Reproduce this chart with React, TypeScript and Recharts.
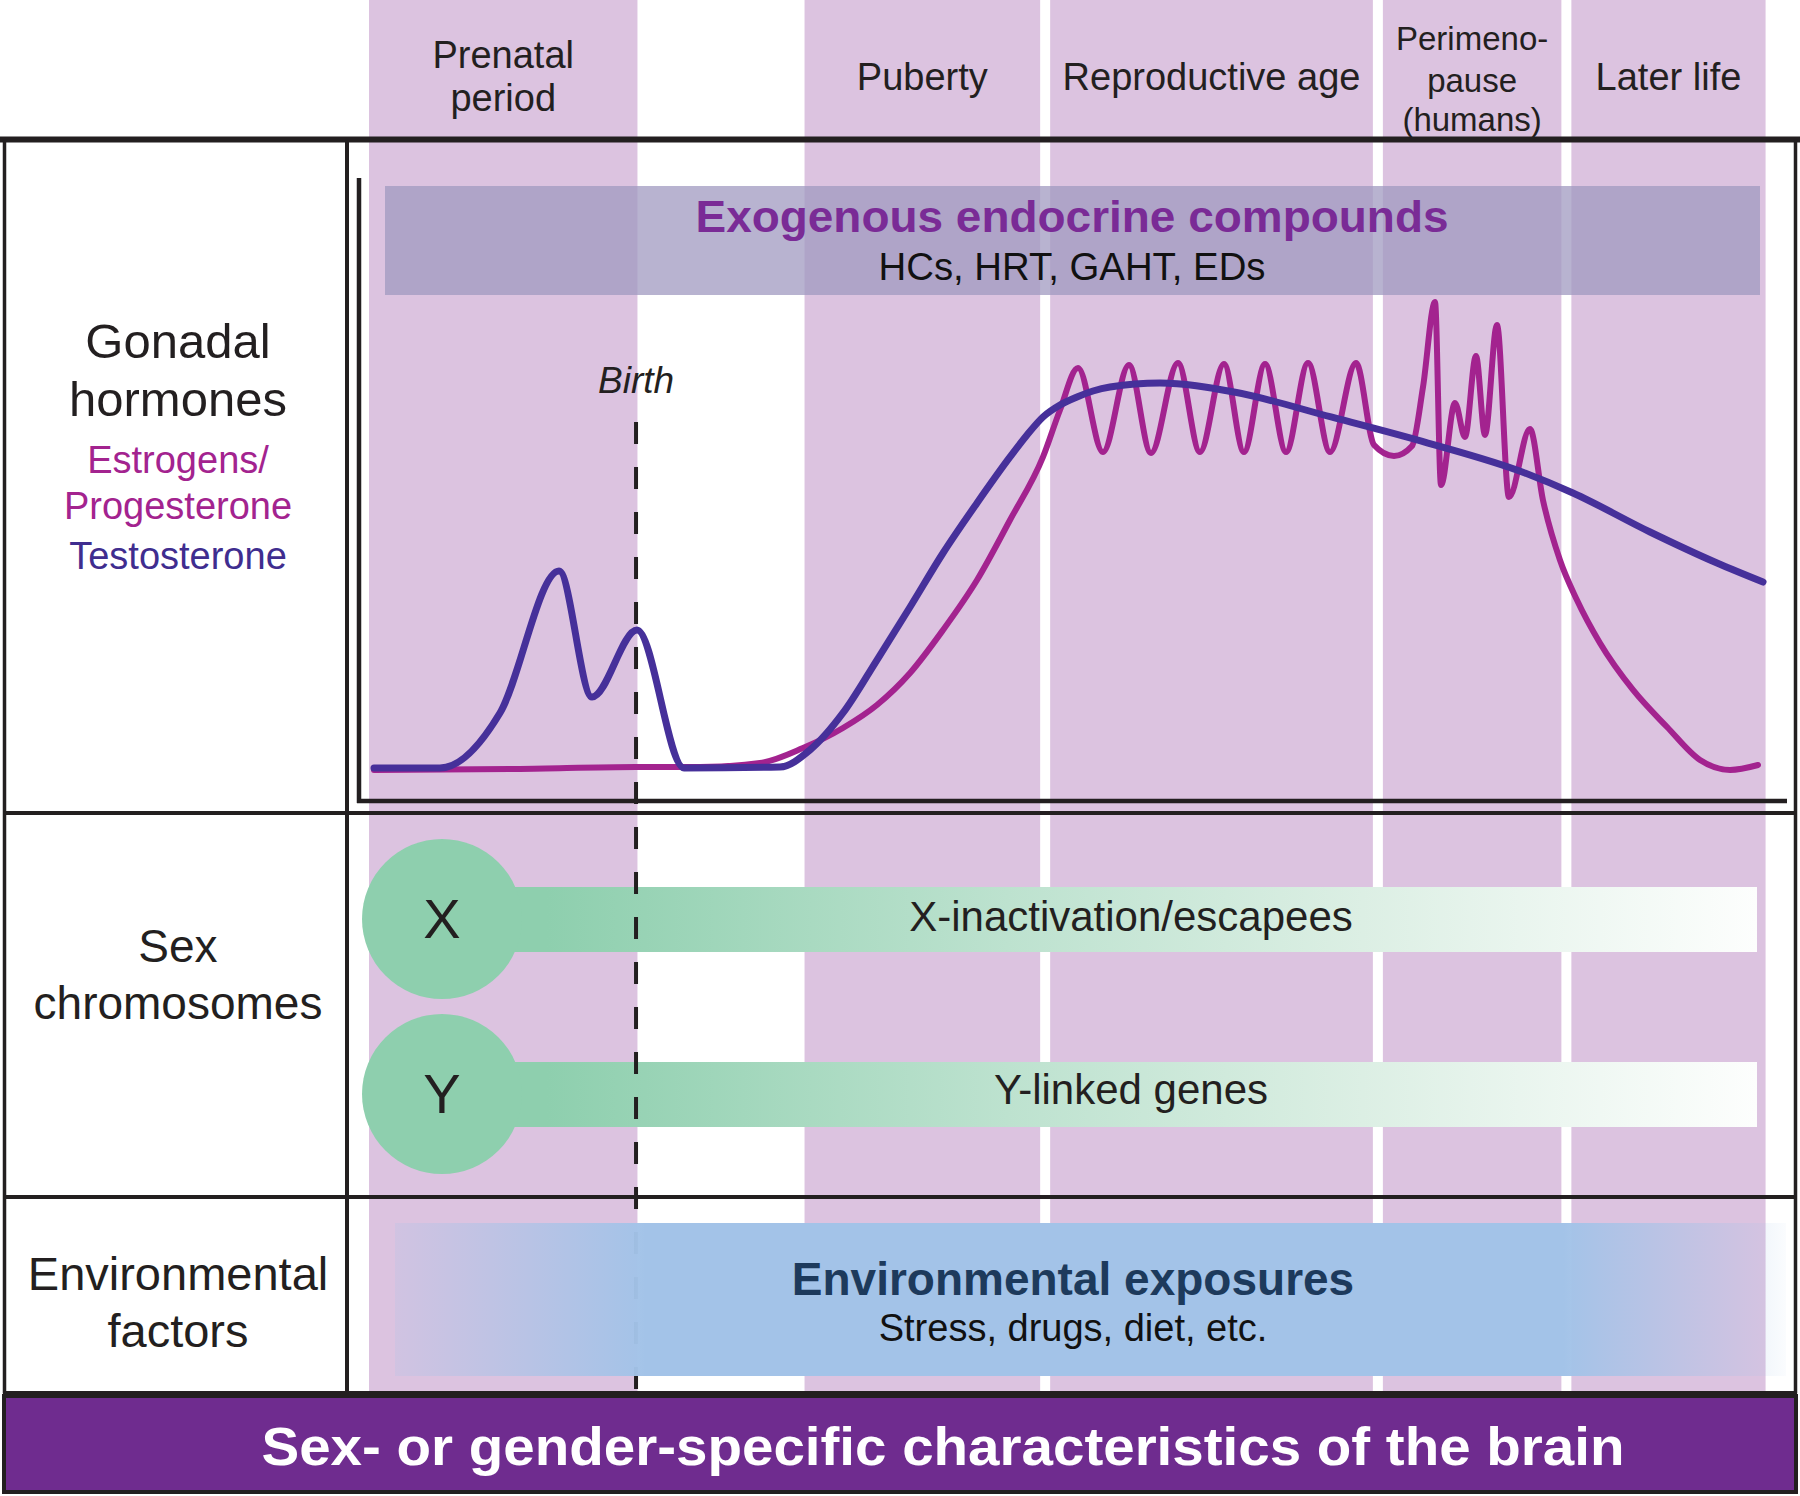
import React from 'react';
import { ComposedChart, Line, XAxis, YAxis, ReferenceArea, ReferenceLine } from 'recharts';

// ---------------- data ----------------
// life-course axis: 0..100 (relative life-course units), hormone level: 0..100 (relative)
const stageLabels: string[][] = [
  ['Prenatal', 'period'],
  ['Puberty'],
  ['Reproductive age'],
  ['Perimeno-', 'pause', '(humans)'],
  ['Later life'],
];
const stageStart = [0.7, 31.2, 48.4, 71.7, 84.9];
const stageEnd = [19.5, 47.7, 71.0, 84.2, 98.5];
const birthAt = 19.4;

const testosteroneX = [1.05, 5.67, 9.87, 14.01, 16.32, 19.47, 22.76, 29.48, 31.58, 33.89, 36.27, 38.59, 40.9, 43.28, 45.59, 46.78, 47.9, 49.09, 50.28, 51.4, 52.59, 56.09, 61.27, 68.07, 74.86, 81.65, 85.01, 90.41, 95.1, 98.32];
const testosteroneLevel = [5.3, 5.3, 14.13, 36.92, 16.69, 27.45, 5.3, 5.46, 8.19, 14.13, 22.63, 31.14, 39.81, 47.83, 55.22, 58.75, 61.64, 63.56, 64.85, 65.81, 66.45, 67.09, 65.65, 61.64, 57.46, 52.65, 49.44, 43.18, 38.2, 35.15];

const estrogenX = [1.05, 11.27, 19.4, 23.88, 28.08, 31.09, 33.89, 36.27, 38.59, 40.9, 43.28, 45.59, 47.9, 49.09, 50.35, 52.1, 53.92, 55.46, 57.35, 58.89, 60.57, 61.97, 63.45, 64.92, 66.46, 68.0, 69.82, 71.08, 72.48, 73.74, 74.51, 75.35, 75.77, 76.75, 77.45, 78.22, 78.85, 79.69, 80.53, 82.0, 82.91, 84.1, 85.29, 86.9, 89.22, 91.6, 93.91, 96.01, 97.97];
const estrogenLevel = [4.98, 5.14, 5.46, 5.46, 6.1, 8.51, 11.72, 15.41, 20.55, 27.45, 35.47, 45.1, 55.22, 62.76, 69.5, 56.02, 69.98, 55.86, 70.3, 56.02, 70.14, 56.02, 70.14, 56.02, 70.3, 56.02, 70.3, 57.14, 55.38, 56.98, 66.45, 80.1, 50.72, 63.88, 58.43, 71.43, 58.75, 76.4, 48.8, 59.71, 48.31, 38.68, 32.26, 25.36, 17.82, 11.88, 6.58, 4.98, 5.78];

const testosteroneData = testosteroneX.map((x, i) => ({ x, level: testosteroneLevel[i] }));
const estrogenData = estrogenX.map((x, i) => ({ x, level: estrogenLevel[i] }));

// ---------------- layout ----------------
const W = 1800;
const H = 1496;
const PLOT = { left: 359, right: 1787, top: 178, bottom: 801 };
const X_DOMAIN: [number, number] = [0, 100];
const Y_DOMAIN: [number, number] = [0, 100];
const xToPx = (v: number) => PLOT.left + ((v - X_DOMAIN[0]) / (X_DOMAIN[1] - X_DOMAIN[0])) * (PLOT.right - PLOT.left);
const pxToX = (px: number) => X_DOMAIN[0] + ((px - PLOT.left) / (PLOT.right - PLOT.left)) * (X_DOMAIN[1] - X_DOMAIN[0]);
const pxToY = (py: number) => Y_DOMAIN[0] + ((PLOT.bottom - py) / (PLOT.bottom - PLOT.top)) * (Y_DOMAIN[1] - Y_DOMAIN[0]);

const FONT = '"Liberation Sans", Arial, Helvetica, sans-serif';
const INK = '#231f20';
const COLUMN = '#dcc3e0';
const T_COLOR = '#46309a';
const E_COLOR = '#a3238f';
const GREEN = '#8ecfae';

const headerBaselines = [[68, 111], [90], [90], [50, 92, 131], [90]];
const headerSizes = [38, 38, 38, 33, 38];

const TABLE_TOP = 139.5;
const TABLE_BOTTOM = 1393.5;
const ROW1 = 813;
const ROW2 = 1197;
const DIVIDER_X = 347;

export default function App() {
  return (
    <div style={{ position: 'absolute', left: 0, top: 0, width: W, height: H, background: '#ffffff', overflow: 'hidden' }}>
      <svg width={W} height={H} style={{ position: 'absolute', left: 0, top: 0 }}>
        <defs>
          <linearGradient id="greenBar" x1="0" y1="0" x2="1" y2="0">
            <stop offset="0" stopColor={GREEN} />
            <stop offset="0.08" stopColor={GREEN} />
            <stop offset="0.43" stopColor="#bde2cf" />
            <stop offset="0.7" stopColor="#dcefe4" />
            <stop offset="1" stopColor="#fdfefd" />
          </linearGradient>
          <linearGradient id="envBar" x1="0" y1="0" x2="1" y2="0">
            <stop offset="0" stopColor="#a3c3e8" stopOpacity="0.2" />
            <stop offset="0.18" stopColor="#a3c3e8" stopOpacity="1" />
            <stop offset="0.84" stopColor="#a3c3e8" stopOpacity="1" />
            <stop offset="1" stopColor="#a3c3e8" stopOpacity="0.05" />
          </linearGradient>
        </defs>
      </svg>
      <div style={{ position: 'absolute', left: 0, top: 0 }}>
        <ComposedChart
          width={W}
          height={H}
          margin={{ top: PLOT.top, right: W - PLOT.right, bottom: H - PLOT.bottom, left: PLOT.left }}
        >
          <XAxis type="number" dataKey="x" domain={X_DOMAIN} allowDataOverflow height={0} tick={false} tickLine={false} axisLine={false} />
          <YAxis type="number" domain={Y_DOMAIN} allowDataOverflow width={0} tick={false} tickLine={false} axisLine={false} />
          {stageStart.map((s, i) => (
            <ReferenceArea
              key={'stage' + i}
              x1={s}
              x2={stageEnd[i]}
              y1={pxToY(TABLE_BOTTOM)}
              y2={pxToY(0)}
              ifOverflow="visible"
              fill={COLUMN}
              fillOpacity={1}
              stroke="none"
            />
          ))}
          <ReferenceArea
            x1={pxToX(442)}
            x2={pxToX(1757)}
            y1={pxToY(952)}
            y2={pxToY(887)}
            ifOverflow="visible"
            fill="url(#greenBar)"
            fillOpacity={1}
            stroke="none"
          />
          <ReferenceArea
            x1={pxToX(442)}
            x2={pxToX(1757)}
            y1={pxToY(1127)}
            y2={pxToY(1062)}
            ifOverflow="visible"
            fill="url(#greenBar)"
            fillOpacity={1}
            stroke="none"
          />
          <Line
            data={estrogenData}
            dataKey="level"
            type="monotone"
            stroke={E_COLOR}
            strokeWidth={6}
            dot={false}
            activeDot={false}
            isAnimationActive={false}
            strokeLinecap="round"
            strokeLinejoin="round"
          />
          <Line
            data={testosteroneData}
            dataKey="level"
            type="monotone"
            stroke={T_COLOR}
            strokeWidth={7}
            dot={false}
            activeDot={false}
            isAnimationActive={false}
            strokeLinecap="round"
            strokeLinejoin="round"
          />
          <ReferenceLine
            segment={[{ x: birthAt, y: pxToY(1389) }, { x: birthAt, y: pxToY(402) }]}
            ifOverflow="visible"
            stroke={INK}
            strokeWidth={4}
            strokeDasharray="22 23"
          />
        </ComposedChart>
      </div>
      <svg width={W} height={H} style={{ position: 'absolute', left: 0, top: 0, pointerEvents: 'none' }} fontFamily={FONT}>
        {/* plot axes */}
        <line x1={PLOT.left} y1={PLOT.top} x2={PLOT.left} y2={PLOT.bottom + 2} stroke={INK} strokeWidth={4.5} />
        <line x1={PLOT.left - 2} y1={PLOT.bottom} x2={PLOT.right} y2={PLOT.bottom} stroke={INK} strokeWidth={4.5} />

        {/* exogenous compounds band */}
        <rect x={385} y={186} width={1375} height={109} fill="rgb(160,153,192)" fillOpacity={0.75} />
        <text x={1072} y={232} textAnchor="middle" fontSize={45} fontWeight="bold" fill="#7a2b96" textLength={753} lengthAdjust="spacingAndGlyphs">
          Exogenous endocrine compounds
        </text>
        <text x={1072} y={280} textAnchor="middle" fontSize={38} fill="#111" textLength={387} lengthAdjust="spacingAndGlyphs">
          HCs, HRT, GAHT, EDs
        </text>

        {/* stage headers */}
        {stageLabels.map((lines, i) => (
          <text key={'h' + i} textAnchor="middle" fontSize={headerSizes[i]} fill={INK}>
            {lines.map((ln, j) => (
              <tspan key={j} x={xToPx((stageStart[i] + stageEnd[i]) / 2)} y={headerBaselines[i][j]}>
                {ln}
              </tspan>
            ))}
          </text>
        ))}

        {/* birth label */}
        <text x={xToPx(birthAt)} y={393} textAnchor="middle" fontSize={37} fontStyle="italic" fill={INK}>
          Birth
        </text>

        {/* environmental band */}
        <rect x={395} y={1223} width={1391} height={153} fill="url(#envBar)" />
        <text x={1073} y={1295} textAnchor="middle" fontSize={46} fontWeight="bold" fill="#1d3a5c">
          Environmental exposures
        </text>
        <text x={1073} y={1341} textAnchor="middle" fontSize={38} fill="#111">
          Stress, drugs, diet, etc.
        </text>

        {/* chromosome circles */}
        <circle cx={442} cy={919} r={80} fill={GREEN} />
        <circle cx={442} cy={1094} r={80} fill={GREEN} />
        <text x={442} y={938} textAnchor="middle" fontSize={56} fill={INK}>X</text>
        <text x={442} y={1113} textAnchor="middle" fontSize={56} fill={INK}>Y</text>
        <text x={1131} y={931} textAnchor="middle" fontSize={42} fill={INK}>X-inactivation/escapees</text>
        <text x={1131} y={1104} textAnchor="middle" fontSize={42} fill={INK}>Y-linked genes</text>

        {/* table frame */}
        <line x1={0} y1={TABLE_TOP} x2={W} y2={TABLE_TOP} stroke={INK} strokeWidth={6} />
        <line x1={4.5} y1={TABLE_TOP} x2={4.5} y2={TABLE_BOTTOM} stroke={INK} strokeWidth={3.5} />
        <line x1={1795.5} y1={TABLE_TOP} x2={1795.5} y2={TABLE_BOTTOM} stroke={INK} strokeWidth={3.5} />
        <line x1={DIVIDER_X} y1={TABLE_TOP} x2={DIVIDER_X} y2={TABLE_BOTTOM} stroke={INK} strokeWidth={4} />
        <line x1={3} y1={ROW1} x2={1797} y2={ROW1} stroke={INK} strokeWidth={4} />
        <line x1={3} y1={ROW2} x2={1797} y2={ROW2} stroke={INK} strokeWidth={4} />
        <line x1={3} y1={TABLE_BOTTOM} x2={1797} y2={TABLE_BOTTOM} stroke={INK} strokeWidth={5} />

        {/* row labels */}
        <text textAnchor="middle" fontSize={49} fill={INK}>
          <tspan x={178} y={358}>Gonadal</tspan>
          <tspan x={178} y={416}>hormones</tspan>
        </text>
        <text textAnchor="middle" fontSize={38} fill={E_COLOR}>
          <tspan x={178} y={473}>Estrogens/</tspan>
          <tspan x={178} y={519}>Progesterone</tspan>
        </text>
        <text x={178} y={569} textAnchor="middle" fontSize={38} fill="#3f2d8f">Testosterone</text>
        <text textAnchor="middle" fontSize={46} fill={INK}>
          <tspan x={178} y={962}>Sex</tspan>
          <tspan x={178} y={1019}>chromosomes</tspan>
        </text>
        <text textAnchor="middle" fontSize={47} fill={INK}>
          <tspan x={178} y={1290}>Environmental</tspan>
          <tspan x={178} y={1347}>factors</tspan>
        </text>

        {/* bottom banner */}
        <rect x={4} y={1396} width={1792} height={96} fill="#6f2c8f" stroke={INK} strokeWidth={4} />
        <text x={943} y={1465} textAnchor="middle" fontSize={54} fontWeight="bold" fill="#ffffff" textLength={1363} lengthAdjust="spacingAndGlyphs">
          Sex- or gender-specific characteristics of the brain
        </text>
      </svg>
    </div>
  );
}
